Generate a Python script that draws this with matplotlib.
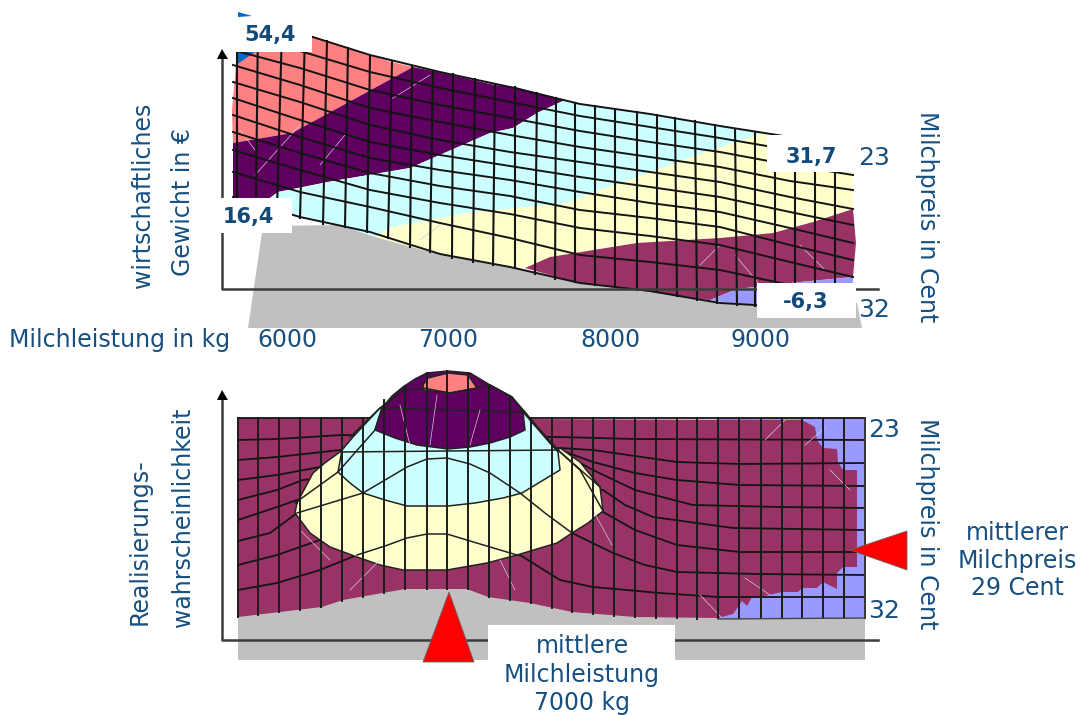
import matplotlib
matplotlib.use("Agg")
import matplotlib.pyplot as plt

# colours of the profit classes
LACHS = "#ff8080"
LILA = "#5f0060"
CYAN = "#ccffff"
GELB = "#ffffcc"
WEIN = "#993366"
BLAU = "#9999ff"
KOBALT = "#0066cc"
GRAU = "#c0c0c0"
TEXT = "#174f80"

# ---- upper surface (economic weight)
oben_spalten_oben = [237, 258, 282, 305, 327, 348, 370, 392, 412, 433, 453, 475, 495, 515, 537,
                     556, 575, 595, 615, 637, 657, 675, 695, 715, 735, 755, 775, 795, 815, 835]
oben_spalten_unten = [237, 256, 277, 300, 323, 345, 367, 388, 410, 430, 452, 473, 493, 515, 535,
                      555, 575, 595, 615, 637, 657, 677, 697, 717, 737, 755, 775, 795, 815, 835]
oben_kante_oben = [52, 20, 28, 34, 41, 48, 56, 62, 67, 71, 74, 79, 85, 87, 93,
                   98, 103, 106, 109, 112, 115, 118, 121, 125, 129, 132, 135, 137, 141, 144]
oben_kante_unten = [198, 204, 210, 218, 224, 227, 232, 238, 247, 252, 258, 262, 265, 268, 274,
                    279, 282, 285, 287, 290, 292, 296, 300, 303, 305, 306, 307, 307, 306, 305]

oben_zeilen_x = [233, 300, 370, 440, 510, 580, 650, 720, 790, 853]
oben_zeilen = [
    [26, 33, 55, 72, 87, 104, 114, 126, 137, 147],
    [32, 51, 72, 88, 102, 116, 127, 138, 150, 161],
    [50, 68, 90, 105, 118, 131, 142, 152, 165, 175],
    [65, 85, 108, 122, 135, 147, 157, 167, 181, 190],
    [82, 102, 125, 140, 152, 162, 172, 182, 197, 209],
    [98, 120, 142, 155, 166, 177, 187, 197, 212, 225],
    [115, 137, 158, 170, 180, 192, 203, 212, 228, 243],
    [132, 153, 173, 186, 196, 210, 218, 227, 245, 260],
    [150, 170, 190, 203, 214, 228, 236, 245, 262, 277],
    [172, 192, 207, 223, 238, 255, 262, 270, 285, 292],
    [197, 217, 232, 254, 267, 283, 291, 303, 307, 305],
]

oben_lachs = [(236, 65), (232, 110), (233, 143), (292, 133), (413, 67), (392, 62), (312, 36), (238, 12)]
oben_lila = [(233, 143), (292, 133), (413, 67), (433, 71), (495, 85), (515, 87), (565, 100), (537, 113),
             (513, 128), (490, 133), (410, 168), (333, 181), (278, 192), (270, 198), (233, 198)]
oben_cyan = [(278, 192), (333, 181), (410, 168), (490, 133), (513, 128), (537, 113), (565, 100), (576, 103),
             (650, 114), (763, 133), (733, 143), (697, 155), (635, 178), (600, 190), (567, 203), (467, 213),
             (392, 227), (375, 237), (345, 227), (292, 215), (270, 198)]
oben_gelb = [(763, 133), (795, 137), (853, 147), (853, 209), (813, 222), (773, 233), (720, 238), (667, 243),
             (637, 243), (550, 257), (525, 268), (495, 265), (430, 252), (375, 237), (392, 227), (467, 213),
             (567, 203), (600, 190), (635, 178), (697, 155), (733, 143)]
oben_wein = [(525, 268), (550, 257), (637, 243), (720, 238), (773, 233), (813, 222), (853, 209), (856, 243),
             (853, 277), (800, 282), (737, 289), (710, 300), (677, 296), (637, 290), (575, 282)]
oben_blau = [(710, 300), (737, 289), (800, 282), (853, 277), (853, 305), (757, 306)]
oben_spitze = [(236, 65), (238, 52), (255, 52)]
oben_zipfel = [(238, 12), (252, 16), (238, 17)]
oben_grau = [(263, 226), (345, 225), (430, 250), (575, 280), (717, 300), (757, 304), (857, 303),
             (862, 328), (248, 328)]

# ---- lower surface (probability)
unten_spalten = [238, 258, 279, 300, 321, 342, 363, 384, 405, 427, 447, 468, 489, 510, 531, 552,
                 572, 593, 614, 635, 656, 677, 697, 718, 739, 761, 782, 802, 823, 844, 865]
unten_kante_oben = [418, 418, 418, 418, 418, 418, 418, 400, 386, 373, 371, 373, 385, 396, 418, 418,
                    418, 418, 418, 418, 418, 418, 418, 418, 418, 418, 418, 418, 418, 418, 418]
unten_kante_unten = [617, 615, 612, 610, 607, 601, 597, 593, 589, 589, 589, 589, 597, 600, 603, 608,
                     612, 614, 616, 617, 618, 618, 619, 618, 618, 618, 618, 618, 618, 618, 618]

unten_flanken = [
    [(238, 418), (865, 418)],
    [(238, 440), (277, 439), (342, 435), (560, 437), (635, 439), (865, 440)],
    [(238, 460), (277, 457), (340, 450), (560, 448), (593, 450), (635, 456), (677, 462), (740, 464), (865, 463)],
    [(238, 480), (277, 475), (320, 467), (560, 450), (593, 462), (635, 473), (677, 480), (740, 485), (865, 486)],
    [(238, 500), (277, 490), (303, 480), (560, 452), (593, 470), (635, 490), (693, 505), (780, 507), (865, 508)],
    [(238, 520), (277, 507), (297, 500), (603, 490), (625, 505), (653, 517), (733, 528), (865, 530)],
    [(238, 541), (270, 533), (297, 513), (603, 512), (635, 530), (677, 545), (740, 552), (865, 552)],
    [(238, 565), (277, 555), (320, 540), (572, 533), (613, 553), (645, 565), (677, 572), (757, 574), (865, 575)],
    [(238, 590), (277, 583), (320, 570), (357, 555), (520, 555), (560, 580), (593, 587), (660, 593), (718, 597),
     (865, 597)],
]
unten_dom_zeilen = [
    [(297, 513), (330, 503), (363, 493), (385, 480), (407, 467), (427, 459), (447, 458), (470, 464), (490, 473),
     (520, 493), (545, 513), (572, 533)],
    [(357, 555), (385, 546), (407, 538), (427, 534), (447, 534), (480, 544), (517, 555)],
    [(295, 503), (338, 472), (375, 430), (382, 408), (403, 390), (423, 388), (450, 393), (477, 388), (490, 385),
     (512, 397), (525, 412), (550, 443), (580, 470), (603, 511)],
    [(350, 437), (380, 408), (403, 390)],
    [(510, 396), (558, 450), (600, 487)],
]

unten_wein = [(238, 418), (802, 420), (815, 427), (817, 440), (823, 448), (837, 449), (838, 462), (843, 470),
              (857, 470), (857, 567), (843, 567), (837, 573), (837, 589), (823, 582), (817, 588), (802, 588),
              (798, 592), (782, 592), (760, 597), (752, 597), (747, 606), (742, 601), (738, 607), (733, 614),
              (718, 618), (635, 617), (572, 612), (530, 603), (488, 597), (467, 589), (405, 589), (343, 600),
              (322, 607), (238, 617)]
unten_blau = [(718, 418), (865, 418), (865, 618), (718, 619)]
unten_gelb = [(297, 503), (295, 513), (310, 533), (330, 547), (357, 557), (380, 565), (403, 570), (447, 570),
              (487, 563), (517, 555), (557, 543), (572, 533), (588, 523), (603, 511), (600, 487), (580, 462),
              (560, 448), (558, 450), (340, 452), (326, 462), (313, 473)]
unten_cyan = [(338, 472), (342, 450), (353, 437), (380, 408), (523, 412), (550, 443), (558, 452), (560, 470),
              (522, 493), (503, 498), (475, 503), (448, 506), (407, 506), (385, 500), (363, 493), (350, 483)]
unten_lila = [(382, 408), (392, 396), (403, 387), (415, 379), (427, 373), (448, 371), (470, 373), (490, 385),
              (512, 397), (523, 412), (525, 430), (510, 437), (490, 443), (470, 447), (448, 449), (417, 445),
              (395, 438), (375, 430)]
unten_lachs = [(423, 385), (428, 378), (448, 373), (468, 375), (477, 388), (450, 393), (423, 390)]
unten_grau = [(238, 610), (322, 600), (405, 585), (467, 585), (530, 598), (572, 608), (718, 612), (865, 612),
              (865, 660), (238, 660)]

# pale triangulation strokes inside the classes
helle_striche = [
    [(240, 130), (255, 150)], [(300, 125), (255, 175)], [(320, 165), (345, 135)], [(430, 75), (390, 100)],
    [(735, 255), (760, 285)], [(800, 245), (825, 270)], [(700, 265), (720, 245)], [(420, 240), (440, 225)],
    [(410, 445), (400, 405)], [(470, 445), (480, 410)], [(430, 445), (437, 395)],
    [(300, 530), (330, 560)], [(350, 590), (380, 560)], [(515, 590), (500, 560)], [(590, 505), (612, 545)],
    [(765, 440), (785, 420)], [(805, 445), (825, 428)], [(830, 470), (850, 490)], [(700, 595), (722, 618)],
    [(745, 578), (770, 595)],
]

dreieck_unten = [(449, 592), (423, 662), (474, 662)]
dreieck_rechts = [(850, 550), (907, 531), (907, 570)]

# white label boxes: x0, y0, x1, y1
wert_boxen = [(232, 25, 312, 52), (232, 0, 312, 25), (220, 198, 292, 233),
              (767, 135, 857, 172), (757, 283, 856, 318)]
text_box = (488, 625, 675, 664)

wert_texte = [("54,4", 270, 35), ("16,4", 248, 217), ("31,7", 811, 157), ("-6,3", 806, 302)]
x_ticks = [("6000", 287), ("7000", 448), ("8000", 610), ("9000", 760)]


def flaeche(punkte, farbe, z=2):
    ax.fill([p[0] for p in punkte], [p[1] for p in punkte], color=farbe, lw=0, zorder=z)


def linie(punkte, z=3, lw=1.4, farbe="#141414"):
    ax.plot([p[0] for p in punkte], [p[1] for p in punkte], color=farbe, lw=lw, zorder=z,
            solid_joinstyle="round")


fig = plt.figure(figsize=(10.84, 7.15), dpi=100)
ax = fig.add_axes([0, 0, 1, 1])
ax.set_xlim(0, 1084)
ax.set_ylim(715, 0)
ax.axis("off")

# upper surface
flaeche(oben_grau, GRAU, 1)
for poly, farbe in [(oben_lachs, LACHS), (oben_lila, LILA), (oben_cyan, CYAN), (oben_gelb, GELB),
                    (oben_wein, WEIN), (oben_blau, BLAU), (oben_spitze, KOBALT)]:
    flaeche(poly, farbe)
for zeile in oben_zeilen:
    linie(list(zip(oben_zeilen_x, zeile)))
for x0, x1, y0, y1 in zip(oben_spalten_oben, oben_spalten_unten, oben_kante_oben, oben_kante_unten):
    linie([(x0, y0), (x1, y1)], lw=1.5)

# lower surface
flaeche(unten_grau, GRAU, 1)
flaeche(unten_blau, BLAU)
flaeche(unten_wein, WEIN)
for zeile in unten_flanken:
    linie(zeile, z=2.5, lw=1.3)
for poly, farbe in [(unten_gelb, GELB), (unten_cyan, CYAN), (unten_lila, LILA), (unten_lachs, LACHS)]:
    flaeche(poly, farbe, 2.7)
    linie(poly + poly[:1], z=2.8, lw=1.1, farbe="#222222")
for zeile in unten_dom_zeilen:
    linie(zeile, z=2.9, lw=1.1, farbe="#222222")
for x, y0, y1 in zip(unten_spalten, unten_kante_oben, unten_kante_unten):
    linie([(x, y0), (x, y1)], lw=1.4, farbe="#1c1c1c")
linie([(865, 418), (865, 618), (718, 619)], lw=1.0, farbe="#444444")
for s in helle_striche:
    linie(s, z=2.95, lw=0.5, farbe="#d8c8d8")

# axes of both panels
ACHSE = "#3c3c3c"
linie([(222, 56), (222, 289), (878, 289)], z=4, lw=1.8, farbe=ACHSE)
linie([(222, 396), (222, 640), (878, 640)], z=4, lw=1.8, farbe=ACHSE)
ax.fill([217, 222, 228], [59, 49, 59], color="black", lw=0, zorder=4)
ax.fill([217, 222, 228], [400, 390, 400], color="black", lw=0, zorder=4)

# label boxes sit above everything
for x0, y0, x1, y1 in wert_boxen + [text_box]:
    ax.fill([x0, x1, x1, x0], [y0, y0, y1, y1], color="white", lw=0, zorder=5)
flaeche(oben_zipfel, KOBALT, 5.5)
for tri in (dreieck_unten, dreieck_rechts):
    ax.fill([p[0] for p in tri], [p[1] for p in tri], facecolor="#ff0000", edgecolor="#666666",
            lw=0.6, zorder=6)

for t, x, y in wert_texte:
    ax.text(x, y, t, color="#134a78", fontsize=15, fontweight="bold", ha="center", va="center", zorder=7)

fs = 17
for t, x in x_ticks:
    ax.text(x, 340, t, color=TEXT, fontsize=fs, ha="center", va="center", zorder=7)
ax.text(120, 340, "Milchleistung in kg", color=TEXT, fontsize=fs, ha="center", va="center")
ax.text(143, 195, "wirtschaftliches", color=TEXT, fontsize=fs, rotation=90, ha="center", va="center")
ax.text(183, 202, "Gewicht in €", color=TEXT, fontsize=fs, rotation=90, ha="center", va="center")
ax.text(927, 217, "Milchpreis in Cent", color=TEXT, fontsize=fs, rotation=-90, ha="center", va="center")
ax.text(874, 158, "23", color=TEXT, fontsize=fs + 1, ha="center", va="center")
ax.text(874, 310, "32", color=TEXT, fontsize=fs + 1, ha="center", va="center")

ax.text(140, 542, "Realisierungs-", color=TEXT, fontsize=fs, rotation=90, ha="center", va="center")
ax.text(183, 517, "wahrscheinlichkeit", color=TEXT, fontsize=fs, rotation=90, ha="center", va="center")
ax.text(927, 524, "Milchpreis in Cent", color=TEXT, fontsize=fs, rotation=-90, ha="center", va="center")
ax.text(884, 430, "23", color=TEXT, fontsize=fs + 1, ha="center", va="center")
ax.text(884, 611, "32", color=TEXT, fontsize=fs + 1, ha="center", va="center")

for t, y in [("mittlerer", 533), ("Milchpreis", 561), ("29 Cent", 588)]:
    ax.text(1017, y, t, color=TEXT, fontsize=fs, ha="center", va="center")
for t, y in [("mittlere", 646), ("Milchleistung", 675), ("7000 kg", 703)]:
    ax.text(582, y, t, color=TEXT, fontsize=fs, ha="center", va="center", zorder=7)

fig.savefig("out.png", dpi=100)
